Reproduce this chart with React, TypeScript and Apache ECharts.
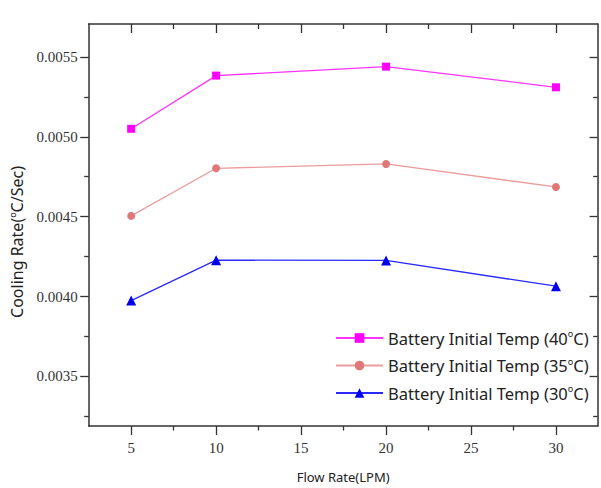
import React, { useEffect, useRef } from "react";
import * as echarts from "echarts";

const flowRates = [5, 10, 20, 30];
const temp40 = [0.00505, 0.005383, 0.005439, 0.00531];
const temp35 = [0.004505, 0.004803, 0.00483, 0.004686];
const temp30 = [0.003975, 0.004228, 0.004226, 0.004065];

const seriesNames = [
  "Battery Initial Temp (40{sup|o}C)",
  "Battery Initial Temp (35{sup|o}C)",
  "Battery Initial Temp (30{sup|o}C)",
];

const xMajor = [5, 10, 15, 20, 25, 30];
const xMinor = [7.5, 12.5, 17.5, 22.5, 27.5];
const yMajor = [0.0035, 0.004, 0.0045, 0.005, 0.0055];
const yMinor = [0.00325, 0.00375, 0.00425, 0.00475, 0.00525];

const X_MIN = 2.5;
const X_MAX = 32.45;
const Y_MIN = 0.00319;
const Y_MAX = 0.005706;

const AXIS_COLOR = "#333";
const SERIF = "Liberation Serif";

export default function App() {
  const ref = useRef<HTMLDivElement>(null);
  useEffect(() => {
    if (!ref.current) return;
    const chart = echarts.init(ref.current, undefined, { renderer: "svg" });

    const mkX = (pos: "top" | "bottom", ticks: number[], len: number, inside: boolean, line: boolean, labels: boolean, name?: string) => ({
      type: "value",
      position: pos,
      min: X_MIN,
      max: X_MAX,
      splitLine: { show: false },
      axisLine: { show: line, onZero: false, lineStyle: { color: AXIS_COLOR, width: 1.5 } },
      axisTick: { show: true, customValues: ticks, length: len, inside, lineStyle: { color: AXIS_COLOR, width: 1.3 } },
      axisLabel: labels
        ? { show: true, customValues: ticks, margin: 14, fontFamily: SERIF, fontSize: 15, color: "#333" }
        : { show: false },
      name: name,
      nameLocation: "middle",
      nameGap: 44,
      nameTextStyle: { fontFamily: "Noto Sans", fontSize: 13, color: "#222" },
    });

    const mkY = (pos: "left" | "right", ticks: number[], len: number, inside: boolean, line: boolean, labels: boolean) => ({
      type: "value",
      position: pos,
      min: Y_MIN,
      max: Y_MAX,
      splitLine: { show: false },
      axisLine: { show: line, onZero: false, lineStyle: { color: AXIS_COLOR, width: 1.5 } },
      axisTick: { show: true, customValues: ticks, length: len, inside, lineStyle: { color: AXIS_COLOR, width: 1.3 } },
      axisLabel: labels
        ? {
            show: true,
            customValues: ticks,
            margin: 11,
            fontFamily: SERIF,
            fontSize: 15,
            color: "#333",
            formatter: (v: number) => v.toFixed(4),
          }
        : { show: false },
    });

    const toPairs = (vals: number[]) => flowRates.map((x, i) => [x, vals[i]]);

    chart.setOption({
      animation: false,
      backgroundColor: "#fff",
      grid: { left: 88.7, top: 24, right: 3.4, bottom: 59, containLabel: false },
      xAxis: [
        mkX("bottom", xMajor, 9, false, true, true, "Flow Rate(LPM)"),
        mkX("bottom", xMinor, 4.5, false, false, false),
        mkX("top", xMajor, 9, true, true, false),
        mkX("top", xMinor, 5, true, false, false),
      ],
      yAxis: [
        mkY("left", yMajor, 8.5, false, true, true),
        mkY("left", yMinor, 4.5, false, false, false),
        mkY("right", yMajor, 8, true, true, false),
        mkY("right", yMinor, 4.5, true, false, false),
      ],
      legend: {
        orient: "vertical",
        left: 330,
        top: 324,
        itemWidth: 47,
        itemHeight: 12,
        itemGap: 10,
        textStyle: {
          fontFamily: "Noto Sans",
          fontSize: 16.5,
          color: "#222",
          rich: {
            sup: { fontSize: 9, fontFamily: "Noto Sans", color: "#222", padding: [0, 0, 9, 0] },
          },
        },
        data: seriesNames,
      },
      series: [
        {
          name: seriesNames[0],
          type: "line",
          data: toPairs(temp40),
          symbol: "rect",
          symbolSize: 8,
          lineStyle: { color: "#ff33ff", width: 1.3 },
          itemStyle: { color: "#ff00ff" },
        },
        {
          name: seriesNames[1],
          type: "line",
          data: toPairs(temp35),
          symbol: "circle",
          symbolSize: 8,
          lineStyle: { color: "#eb9c9c", width: 1.3 },
          itemStyle: { color: "#e07878" },
        },
        {
          name: seriesNames[2],
          type: "line",
          data: toPairs(temp30),
          symbol: "triangle",
          symbolSize: 10,
          lineStyle: { color: "#2a2aff", width: 1.3 },
          itemStyle: { color: "#0000ee" },
        },
      ],
      graphic: [
        {
          type: "text",
          x: 16.5,
          y: 242,
          rotation: Math.PI / 2,
          style: {
            text: "Cooling Rate({sup|o}C/Sec)",
            fontFamily: "Noto Sans",
            fontSize: 16,
            fill: "#222",
            align: "center",
            verticalAlign: "middle",
            rich: {
              sup: { fontSize: 9, fontFamily: "Noto Sans", fill: "#222", padding: [0, 0, 9, 0] },
            },
          },
        },
      ],
    });
    return () => chart.dispose();
  }, []);
  return <div ref={ref} style={{ width: 601, height: 488, position: "absolute", left: 0, top: 0 }} />;
}
